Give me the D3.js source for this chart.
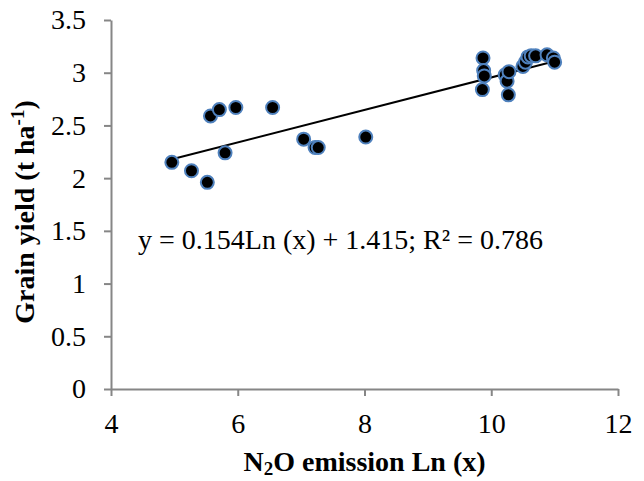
<!DOCTYPE html>
<html>
<head>
<meta charset="utf-8">
<script src="https://cdn.jsdelivr.net/npm/d3@7/dist/d3.min.js"></script>
<style>
    body { margin: 0; background: #fff; }
    .tick text { font-family: "Liberation Serif", "Times New Roman", serif; font-size: 28px; fill: #000; }
    .axis path, .axis line { stroke: #868686; stroke-width: 2; }
    .axis-label { font-family: "Liberation Serif", "Times New Roman", serif; font-weight: bold; font-size: 28px; fill: #000; }
</style>
</head>
<body>
<div id="chart"></div>
<script>
// N2O emission (ln) vs grain yield
const lnEmission = [4.96, 5.27, 5.52, 5.80, 5.57, 5.71, 5.97, 6.55, 7.04, 7.22, 7.27, 8.02,
    9.87, 9.88, 9.89, 9.86, 10.22, 10.25, 10.27, 10.28, 10.50, 10.54, 10.58, 10.63, 10.70, 10.88, 10.98, 11.00];
const grainYield = [2.15, 2.07, 1.96, 2.24, 2.59, 2.65, 2.67, 2.67, 2.37, 2.29, 2.29, 2.39,
    3.14, 3.02, 2.97, 2.84, 2.98, 2.92, 2.79, 3.01, 3.06, 3.10, 3.15, 3.16, 3.16, 3.17, 3.14, 3.10];

const xTicks = [4, 6, 8, 10, 12];
const yTicks = [0, 0.5, 1, 1.5, 2, 2.5, 3, 3.5];

// trend line coefficients as printed on the chart
const slope = 0.154;
const intercept = 1.415;
const equation = "y = 0.154Ln (x) + 1.415; R\u00b2 = 0.786";

const margin = { top: 20, left: 111, bottom: 92, right: 26 };
const width = 644 - margin.left - margin.right;
const height = 481 - margin.top - margin.bottom;

const x = d3.scaleLinear().domain([4, 12]).range([0, width]);
const y = d3.scaleLinear().domain([0, 3.5]).range([height, 0]);

const svg = d3.select("#chart").append("svg")
    .attr("width", 644)
    .attr("height", 481)
    .append("g")
    .attr("transform", `translate(${margin.left}, ${margin.top})`);

// x axis
svg.append("g")
    .attr("class", "x axis")
    .attr("transform", `translate(0, ${height})`)
    .call(d3.axisBottom(x).tickValues(xTicks).tickSize(7).tickPadding(17).tickSizeOuter(0));

// y axis
svg.append("g")
    .attr("class", "y axis")
    .call(d3.axisLeft(y).tickValues(yTicks).tickSize(7).tickPadding(18).tickSizeOuter(0)
        .tickFormat(d3.format("")));

// trend line over the data range
const xExtent = d3.extent(lnEmission);
svg.append("path")
    .attr("d", d3.line()(xExtent.map(v => [x(v), y(slope * v + intercept)])))
    .attr("stroke", "#000")
    .attr("stroke-width", 2)
    .attr("fill", "none");

// points
svg.selectAll("circle")
    .data(lnEmission.map((v, i) => [v, grainYield[i]]))
    .join("circle")
    .attr("cx", d => x(d[0]))
    .attr("cy", d => y(d[1]))
    .attr("r", 6.5)
    .attr("fill", "#000")
    .attr("stroke", "#4f81bd")
    .attr("stroke-width", 2);

// equation label
svg.append("text")
    .attr("x", 138 - margin.left)
    .attr("y", 249 - margin.top)
    .style("font-family", "'Liberation Serif', 'Times New Roman', serif")
    .style("font-size", "28px")
    .text(equation);

// axis titles
const xt = svg.append("text")
    .attr("class", "axis-label")
    .attr("x", width / 2)
    .attr("y", 471 - margin.top)
    .style("text-anchor", "middle");
xt.append("tspan").text("N");
xt.append("tspan").attr("dy", 4).style("font-size", "19px").text("2");
xt.append("tspan").attr("dy", -4).text("O emission Ln (x)");

const yt = svg.append("text")
    .attr("class", "axis-label")
    .attr("transform", `translate(${34 - margin.left}, ${212 - margin.top}) rotate(-90)`)
    .style("text-anchor", "middle");
yt.append("tspan").text("Grain yield (t ha");
yt.append("tspan").attr("dy", -10).style("font-size", "19px").text("-1");
yt.append("tspan").attr("dy", 10).text(")");
</script>
</body>
</html>
